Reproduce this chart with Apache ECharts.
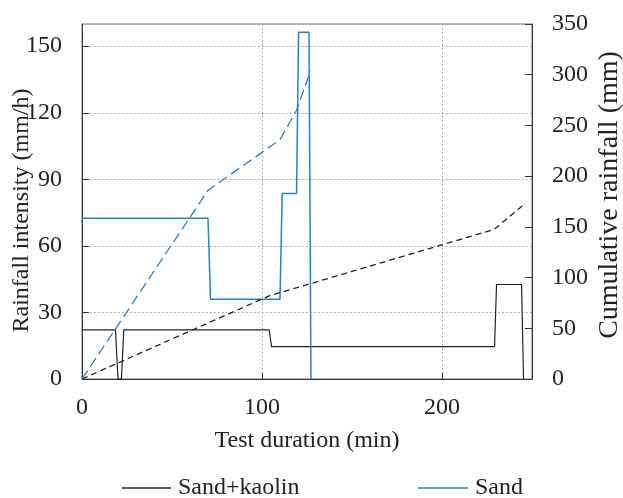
<!DOCTYPE html>
<html>
<head>
<meta charset="utf-8">
<script src="https://cdn.jsdelivr.net/npm/echarts@6/dist/echarts.min.js"></script>
<style>
html,body{margin:0;padding:0;background:#fff;}
#chart{width:623px;height:498px;}
</style>
</head>
<body>
<div id="chart"></div>
<script>
// Sand+kaolin rainfall intensity (mm/h)
const kaolinTime = [0, 18.6, 20, 21.9, 23.2, 104, 105.3, 229.2, 230.3, 244.2, 245.3];
const kaolinIntensity = [22.1, 22.1, 0, 0, 22.1, 22.1, 14.6, 14.6, 42.6, 42.6, 0];
// Sand+kaolin cumulative rainfall (mm)
const kaolinCumTime = [0, 104, 229, 245.5];
const kaolinCumulative = [0, 82, 147.5, 172];
// Sand rainfall intensity (mm/h)
const sandTime = [0, 70, 71.4, 110, 111.2, 119.2, 120.3, 126.1, 127.2];
const sandIntensity = [72.5, 72.5, 36, 36, 83.6, 83.6, 156.3, 156.3, 0];
// Sand cumulative rainfall (mm)
const sandCumTime = [0, 70, 110, 119.2, 127];
const sandCumulative = [0, 186, 236, 265, 304];

const xTitle = 'Test duration (min)';
const yLeftTitle = 'Rainfall intensity (mm/h)';
const yRightTitle = 'Cumulative rainfall (mm)';

function pairs(xs, ys){ return xs.map((x,i)=>[x, ys[i]]); }

const BLUE = '#2a80c6';
const BLACK = '#222';
const FONT = 'Liberation Serif';
const FS = 24;
const GRIDLINE = {show: true, lineStyle: {color: '#999', type: [1.5, 2.5], width: 1}};

const chart = echarts.init(document.getElementById('chart'), null, {renderer:'canvas'});
chart.setOption({
  animation: false,
  backgroundColor: '#fff',
  textStyle: {fontFamily: FONT},
  grid: {left: 82, right: 91, top: 24, bottom: 119, show: true, borderColor: '#777', borderWidth: 1,
         containLabel: false, outerBoundsMode: 'none'},
  legend: [
    {data: ['Sand+kaolin'], left: 122, top: 476, padding: 0, icon: 'rect', itemWidth: 49, itemHeight: 1.3, itemGap: 0,
     textStyle: {fontFamily: FONT, fontSize: FS, color: BLACK, padding: [0,0,0,2]}},
    {data: ['Sand'], left: 418, top: 476, padding: 0, icon: 'rect', itemWidth: 50, itemHeight: 1.3, itemGap: 0,
     textStyle: {fontFamily: FONT, fontSize: FS, color: BLACK, padding: [0,0,0,2]}}
  ],
  xAxis: {
    type: 'value', min: 0, max: 250, interval: 100,
    name: xTitle, nameLocation: 'middle', nameGap: 50, nameMoveOverlap: false,
    nameTextStyle: {fontFamily: FONT, fontSize: FS, color: BLACK},
    axisLine: {show: true, lineStyle: {color: '#333', width: 1}},
    axisTick: {show: true, inside: true, length: 6, lineStyle: {color: '#333'}},
    axisLabel: {fontFamily: FONT, fontSize: FS, color: BLACK, margin: 17, showMaxLabel: false},
    splitLine: GRIDLINE
  },
  yAxis: [
    {
      type: 'value', min: 0, max: 160, interval: 30, position: 'left',
      name: yLeftTitle, nameLocation: 'middle', nameGap: 48, nameRotate: 90, nameMoveOverlap: false,
      nameTextStyle: {fontFamily: FONT, fontSize: FS, color: BLACK, padding: [0, 18, 0, 0]},
      axisLine: {show: true, lineStyle: {color: '#333', width: 1}},
      axisTick: {show: true, inside: true, length: 7, lineStyle: {color: '#333'}},
      axisLabel: {fontFamily: FONT, fontSize: FS, color: BLACK, margin: 20, showMaxLabel: false},
      splitLine: GRIDLINE
    },
    {
      type: 'value', min: 0, max: 350, interval: 50, position: 'right',
      name: yRightTitle, nameLocation: 'middle', nameGap: 64, nameRotate: 90, nameMoveOverlap: false,
      nameTextStyle: {fontFamily: FONT, fontSize: 28, color: BLACK, padding: [0, 0, 0, 13]},
      axisLine: {show: true, lineStyle: {color: '#333', width: 1}},
      axisTick: {show: true, inside: true, length: 7, lineStyle: {color: '#333'}},
      axisLabel: {fontFamily: FONT, fontSize: FS, color: BLACK, margin: 20},
      splitLine: {show: false}
    }
  ],
  series: [
    {name: 'Sand+kaolin', type: 'line', yAxisIndex: 0, data: pairs(kaolinTime, kaolinIntensity),
     symbol: 'none', color: BLACK, lineStyle: {color: BLACK, width: 1.2}},
    {name: 'Sand', type: 'line', yAxisIndex: 0, data: pairs(sandTime, sandIntensity),
     symbol: 'none', color: BLUE, lineStyle: {color: BLUE, width: 1.5}},
    {name: 'Sand+kaolin cumulative', type: 'line', yAxisIndex: 1, data: pairs(kaolinCumTime, kaolinCumulative),
     symbol: 'none', color: BLACK, lineStyle: {color: BLACK, width: 1.3, type: [6, 4]}},
    {name: 'Sand cumulative', type: 'line', yAxisIndex: 1, data: pairs(sandCumTime, sandCumulative),
     symbol: 'none', color: BLUE, lineStyle: {color: BLUE, width: 1.3, type: [10, 5]}}
  ]
});
</script>
</body>
</html>
